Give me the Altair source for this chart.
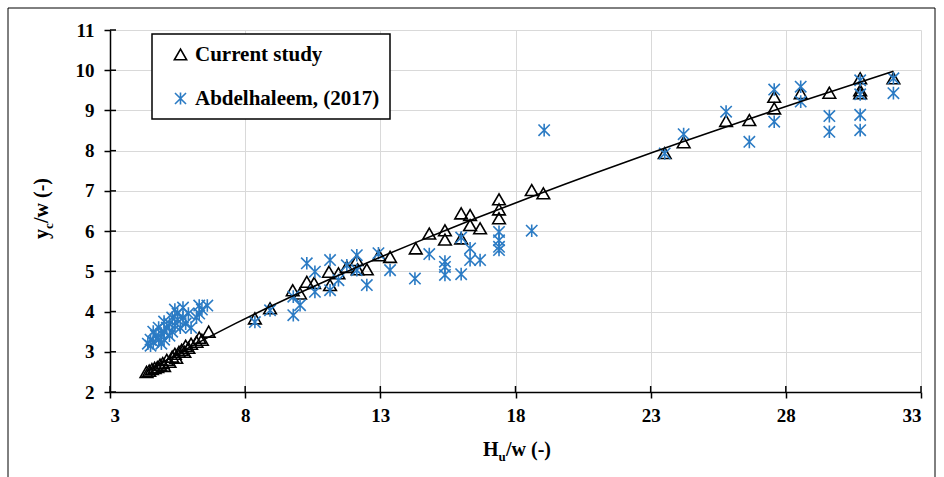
import altair as alt
import pandas as pd

# Current study (triangles)
cs_x = [4.35, 4.45, 4.55, 4.65, 4.75, 4.85, 4.95, 5.0, 5.1, 5.2, 5.3, 5.4, 5.45, 5.55, 5.65, 5.75, 5.8, 5.9,
        6.0, 6.2, 6.3, 6.4, 6.65,
        8.36, 8.92, 9.76, 10.03, 10.28, 10.55, 11.1, 11.14, 11.45, 11.76, 12.13, 12.16, 12.5, 12.95, 13.36,
        14.31, 14.81, 15.39, 15.39, 15.99, 15.99, 16.32, 16.32, 16.69, 17.39, 17.39, 17.39, 18.6, 19.03,
        23.52, 24.22, 25.79, 26.65, 27.57, 27.57, 28.55, 29.61, 30.75, 30.75, 30.75, 31.98]
cs_y = [2.5, 2.53, 2.57, 2.6, 2.62, 2.68, 2.72, 2.65, 2.8, 2.75, 2.88, 2.95, 2.85, 3.0, 3.05, 3.0, 3.15, 3.1,
        3.2, 3.25, 3.35, 3.3, 3.5,
        3.83, 4.08, 4.53, 4.45, 4.74, 4.71, 4.99, 4.66, 4.95, 5.11, 5.28, 5.05, 5.05, 5.40, 5.36,
        5.57, 5.94, 6.02, 5.79, 6.44, 5.82, 6.40, 6.15, 6.07, 6.79, 6.54, 6.32, 7.02, 6.94,
        7.94, 8.21, 8.74, 8.76, 9.34, 9.05, 9.43, 9.44, 9.80, 9.5, 9.43, 9.80]

# Abdelhaleem (2017) (asterisks)
ab_x = [4.4, 4.5, 4.6, 4.7, 4.6, 4.8, 4.9, 4.8, 5.0, 5.0, 5.0, 5.1, 5.2, 5.2, 5.3, 5.3, 5.4, 5.4, 5.5, 5.5,
        5.6, 5.7, 5.7, 5.8, 5.9, 6.0, 6.3, 6.3, 6.4, 6.6, 6.2, 4.5, 4.9,
        8.36, 8.92, 9.78, 10.03, 9.78, 10.28, 10.58, 10.58, 11.14, 11.14, 11.45, 11.76, 12.13, 12.13, 12.5,
        12.93, 13.36, 14.28, 14.81, 15.39, 15.39, 15.39, 15.99, 15.99, 16.32, 16.32, 16.69, 17.39, 17.39,
        17.39, 17.39, 18.6, 19.06,
        23.52, 24.22, 25.79, 26.65, 27.57, 27.57, 28.55, 28.55, 29.61, 29.61, 30.75, 30.75, 30.75, 30.75,
        31.98, 31.98]
ab_y = [3.2, 3.3, 3.25, 3.4, 3.5, 3.3, 3.45, 3.6, 3.3, 3.5, 3.75, 3.6, 3.4, 3.7, 3.85, 3.5, 3.65, 4.05, 3.8, 3.95,
        3.6, 4.1, 3.85, 3.7, 3.95, 3.6, 4.15, 3.95, 4.05, 4.15, 3.85, 3.15, 3.2,
        3.74, 4.03, 3.91, 4.16, 4.37, 5.20, 4.99, 4.49, 5.28, 4.53, 4.78, 5.15, 5.40, 5.03, 4.66,
        5.45, 5.03, 4.82, 5.43, 5.24, 5.11, 4.91, 5.84, 4.93, 5.57, 5.28, 5.28, 5.98, 5.77,
        5.61, 5.53, 6.01, 8.51,
        7.93, 8.41, 8.97, 8.22, 9.52, 8.72, 9.59, 9.22, 8.86, 8.47, 9.75, 9.4, 8.89, 8.51,
        9.8, 9.43]

series_names = ["Current study", "Abdelhaleem, (2017)"]
x_ticks = [3, 8, 13, 18, 23, 28, 33]
y_ticks = [2, 3, 4, 5, 6, 7, 8, 9, 10, 11]

df = pd.DataFrame({
    "x": cs_x + ab_x,
    "y": cs_y + ab_y,
    "series": [series_names[0]] * len(cs_x) + [series_names[1]] * len(ab_x),
    "order": [0] * len(cs_x) + [1] * len(ab_x),
})

W, H = 811, 362
FONT = "Liberation Serif"
BLUE = "#2B7BC4"
ASTER = "M0,-1L0,1M-0.9,-0.9L0.9,0.9M-0.9,0.9L0.9,-0.9"

xscale = alt.Scale(domain=[3, 33], nice=False, zero=False)
yscale = alt.Scale(domain=[2, 11], nice=False, zero=False)

leg = alt.Legend(title=None, orient="none", legendX=42, legendY=4, labelLimit=0)

points = alt.Chart(df).mark_point(filled=False, strokeWidth=1.6, opacity=1, size=160).encode(
    x=alt.X("x:Q", scale=xscale,
            axis=alt.Axis(values=x_ticks, title=None, grid=True, labelFontSize=19)),
    y=alt.Y("y:Q", scale=yscale,
            axis=alt.Axis(values=y_ticks, title=None, grid=True, labelFontSize=19, labelPadding=10)),
    color=alt.Color("series:N", scale=alt.Scale(domain=series_names, range=["#000000", BLUE]), legend=leg),
    shape=alt.Shape("series:N", scale=alt.Scale(domain=series_names, range=["triangle-up", ASTER]), legend=leg),
    order="order:Q",
)

trend = alt.Chart(df).transform_filter(
    alt.datum.series == series_names[0]
).transform_regression("x", "y", method="pow").mark_line(color="black", strokeWidth=1.6).encode(
    x=alt.X("x:Q", scale=xscale), y=alt.Y("y:Q", scale=yscale)
)

xt = pd.DataFrame({"v": x_ticks})
yt = pd.DataFrame({"v": y_ticks})
inner_x = alt.Chart(xt).mark_rule(color="black", strokeWidth=1.5).encode(
    x=alt.X("v:Q", scale=xscale), y=alt.value(H), y2=alt.value(H - 6))
inner_y = alt.Chart(yt).mark_rule(color="black", strokeWidth=1.5).encode(
    y=alt.Y("v:Q", scale=yscale), x=alt.value(0), x2=alt.value(6))

one = pd.DataFrame({"t": [""]})
def txt(s, x, y, size, angle=0):
    return alt.Chart(one).mark_text(
        text=s, font=FONT, fontWeight="bold", fontSize=size, align="left",
        baseline="alphabetic", angle=angle, color="black"
    ).encode(x=alt.value(x), y=alt.value(y))

xt1 = txt("H", 373, 426, 20)
xt2 = txt("u", 388.5, 431, 13)
xt3 = txt("/w (-)", 396, 426, 20)
yt1 = txt("y", -62, 209, 20, 270)
yt2 = txt("c", -57, 199, 13, 270)
yt3 = txt("/w (-)", -62, 193, 20, 270)

frame = alt.Chart(one).mark_rect(fill=None, stroke="black", strokeWidth=1).encode(
    x=alt.value(-102), x2=alt.value(825), y=alt.value(-22), y2=alt.value(460))

chart = alt.layer(frame, points, trend, inner_x, inner_y, xt1, xt2, xt3, yt1, yt2, yt3).properties(
    width=W, height=H,
    autosize=alt.AutoSizeParams(type="none"),
    padding={"left": 110, "top": 30, "right": 23, "bottom": 85},
).configure_view(stroke=None).configure_axis(
    labelFont=FONT, labelFontWeight="bold", labelColor="black",
    domainColor="black", domainWidth=1.5, tickColor="black", tickWidth=1.5, tickSize=6,
    gridColor="#d9d9d9", gridWidth=1, labelPadding=8,
).configure_legend(
    labelFont=FONT, labelFontWeight="bold", labelFontSize=21, labelColor="black", labelLimit=0,
    strokeColor="black", strokeWidth=1.5, fillColor="white", padding=10,
    rowPadding=22, symbolOffset=8, symbolStrokeWidth=1.6, symbolSize=150, labelOffset=4,
    cornerRadius=0,
).configure_point(size=160)

chart.save("out.html", embed_options={"renderer": "svg", "actions": False})
